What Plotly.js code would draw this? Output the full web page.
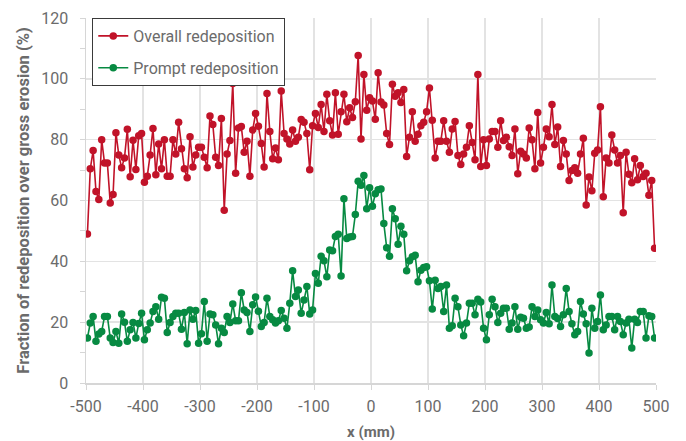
<!DOCTYPE html>
<html>
<head>
<meta charset="utf-8">
<script src="https://cdn.plot.ly/plotly-3.0.1.min.js"></script>
<style>
  html, body { margin: 0; padding: 0; background: #ffffff; }
  #chart { width: 686px; height: 441px; }
</style>
</head>
<body>
<div id="chart"></div>
<script>
// Scan positions along the surface (mm), bin centres every 5 mm
const positionsMm = [
  -497.5, -492.5, -487.5, -482.5, -477.5, -472.5, -467.5, -462.5, -457.5, -452.5,
  -447.5, -442.5, -437.5, -432.5, -427.5, -422.5, -417.5, -412.5, -407.5, -402.5,
  -397.5, -392.5, -387.5, -382.5, -377.5, -372.5, -367.5, -362.5, -357.5, -352.5,
  -347.5, -342.5, -337.5, -332.5, -327.5, -322.5, -317.5, -312.5, -307.5, -302.5,
  -297.5, -292.5, -287.5, -282.5, -277.5, -272.5, -267.5, -262.5, -257.5, -252.5,
  -247.5, -242.5, -237.5, -232.5, -227.5, -222.5, -217.5, -212.5, -207.5, -202.5,
  -197.5, -192.5, -187.5, -182.5, -177.5, -172.5, -167.5, -162.5, -157.5, -152.5,
  -147.5, -142.5, -137.5, -132.5, -127.5, -122.5, -117.5, -112.5, -107.5, -102.5,
  -97.5, -92.5, -87.5, -82.5, -77.5, -72.5, -67.5, -62.5, -57.5, -52.5,
  -47.5, -42.5, -37.5, -32.5, -27.5, -22.5, -17.5, -12.5, -7.5, -2.5,
  2.5, 7.5, 12.5, 17.5, 22.5, 27.5, 32.5, 37.5, 42.5, 47.5,
  52.5, 57.5, 62.5, 67.5, 72.5, 77.5, 82.5, 87.5, 92.5, 97.5,
  102.5, 107.5, 112.5, 117.5, 122.5, 127.5, 132.5, 137.5, 142.5, 147.5,
  152.5, 157.5, 162.5, 167.5, 172.5, 177.5, 182.5, 187.5, 192.5, 197.5,
  202.5, 207.5, 212.5, 217.5, 222.5, 227.5, 232.5, 237.5, 242.5, 247.5,
  252.5, 257.5, 262.5, 267.5, 272.5, 277.5, 282.5, 287.5, 292.5, 297.5,
  302.5, 307.5, 312.5, 317.5, 322.5, 327.5, 332.5, 337.5, 342.5, 347.5,
  352.5, 357.5, 362.5, 367.5, 372.5, 377.5, 382.5, 387.5, 392.5, 397.5,
  402.5, 407.5, 412.5, 417.5, 422.5, 427.5, 432.5, 437.5, 442.5, 447.5,
  452.5, 457.5, 462.5, 467.5, 472.5, 477.5, 482.5, 487.5, 492.5, 497.5
];

// Overall redeposition fraction (%)
const overallRedeposition = [
  49, 70.4, 76.4, 63, 60.3, 80, 72.3, 72.3, 59.2, 62, 82.3, 75, 70.8, 74, 83.4, 67.8, 79.8, 70.2, 81.3, 82,
  66, 68, 75, 83.7, 68.5, 78.6, 70.4, 80, 68, 68, 80, 75.3, 85.7, 77, 70.4, 67.5, 81, 71, 75, 77.5,
  77.5, 74.2, 70.8, 87.8, 85, 74.2, 71.5, 87, 56.8, 75.3, 79.7, 98.5, 69, 83.8, 84.3, 75.9, 79.5, 68, 83.2, 88.6,
  84.4, 78.7, 71, 95.2, 82.7, 73.7, 77.3, 73.4, 96, 82, 80.2, 78.6, 83.2, 79.5, 80.8, 86.6, 85.7, 82, 70.1, 84.6,
  88.6, 84, 91.6, 82.7, 94.9, 86.2, 81.5, 95.4, 81.8, 89.2, 94.9, 85.9, 90.5, 87.3, 92.5, 107.7, 80.2, 101.4, 89.7, 93.8,
  92.7, 86.7, 102, 92.4, 91.4, 82, 78.4, 98.2, 94.3, 95.4, 92.2, 96.5, 74.5, 80.8, 89.2, 79.5, 81.8, 84.6, 85.7, 89.2,
  97, 86.4, 74, 79.5, 79.5, 86.2, 79.5, 75.9, 83.5, 86, 74.8, 71.8, 75.3, 77.5, 84.6, 79.1, 73.4, 101.4, 71.2, 80,
  71.5, 80.2, 82.7, 82.7, 77.5, 86.2, 79.7, 80.8, 77.7, 74.8, 83.5, 68.8, 76.2, 75.3, 74, 83.8, 80, 70.4, 88.9, 72.3,
  77.5, 83.5, 81, 91.6, 78.4, 84.2, 71.2, 79.7, 75.3, 66.6, 69.9, 70.8, 69, 75.3, 80.5, 58.5, 67.7, 63.2, 75.5, 76.6,
  90.8, 61.2, 74, 72.3, 81.5, 76.6, 72.3, 74.8, 56, 75.9, 68.6, 65.8, 73.7, 66.8, 71.5, 67.9, 69, 61.7, 66.6, 44.3
];

// Prompt redeposition fraction (%)
const promptRedeposition = [
  14.8, 19.7, 21.9, 13.7, 16.1, 16.9, 21.9, 21.9, 14.8, 13.3, 16.9, 13.1, 22.7, 20, 13.7, 17.5, 19.9, 14.8, 19.6, 22.9,
  14.2, 17.5, 19.7, 23.5, 25.1, 21, 28.2, 27.9, 16.6, 19.9, 21.9, 22.9, 22.9, 17.7, 23.2, 12.9, 24, 21, 23.8, 13.1,
  16.2, 26.8, 13.7, 22.7, 22.4, 19.1, 12.9, 18, 16.6, 21.9, 19.9, 26, 20.5, 20.5, 29.7, 24, 23.2, 16.9, 25.7, 28.3,
  23.6, 18.6, 19.9, 27.9, 21.9, 20.8, 19.7, 20.5, 23.8, 21.3, 18, 26.2, 36.9, 28.4, 30.6, 22.9, 27.3, 31.7, 22.7, 24,
  36, 32.8, 41.7, 40.2, 34.9, 43.7, 43.5, 48.2, 48.9, 35.2, 60.6, 47.5, 48, 48.2, 55.4, 66.3, 65, 68.2, 57.3, 64.2,
  58.1, 62.2, 63.5, 63.8, 52.4, 44.5, 41.7, 57.3, 54, 45.6, 51.5, 48.9, 36.9, 40.2, 41.5, 42, 33.3, 37.1, 38, 38.2,
  33.6, 24.3, 33.8, 31.1, 31.7, 23.5, 32.2, 18, 18.8, 27.9, 25.1, 19.1, 15.5, 19.7, 26.2, 26.2, 22.4, 27.5, 26.6, 18,
  14.2, 22.4, 27.5, 25.1, 19.9, 22.9, 24.6, 24.6, 17.7, 19.7, 25.1, 17.7, 21.6, 21.3, 18, 18.4, 25.1, 21.9, 24, 20.8,
  19.7, 23.2, 19.5, 32.2, 21.9, 21.2, 18.6, 22.4, 31.1, 23.5, 19.5, 15.9, 16.9, 26.8, 22.7, 19.5, 9.9, 24.6, 18, 20.2,
  28.9, 17.5, 19.1, 21.9, 21.9, 17.5, 21.9, 20.2, 15.9, 19.7, 21, 11.5, 21, 19.9, 23.5, 23.5, 14.8, 22.1, 21.9, 14.8
];

const xTickValues = [-500, -400, -300, -200, -100, 0, 100, 200, 300, 400, 500];
const yTickValues = [0, 20, 40, 60, 80, 100, 120];

const textGray = '#6b6b6b';
const gridGray = '#e3e3e3';
const baseFont = 'Roboto, "Liberation Sans", sans-serif';

const traces = [
  {
    name: 'Overall redeposition',
    legendgroup: 'overall',
    x: positionsMm,
    y: overallRedeposition,
    type: 'scatter',
    mode: 'lines+markers',
    line: { color: '#c11329', width: 1.6 },
    marker: { color: '#c11329', size: 7.5, symbol: 'circle' }
  },
  {
    name: 'Prompt redeposition',
    legendgroup: 'prompt',
    x: positionsMm,
    y: promptRedeposition,
    type: 'scatter',
    mode: 'lines+markers',
    line: { color: '#078a42', width: 1.6 },
    marker: { color: '#078a42', size: 7.5, symbol: 'circle' }
  }
];

const layout = {
  width: 686,
  height: 441,
  margin: { l: 86, r: 30, t: 18, b: 58 },
  paper_bgcolor: '#ffffff',
  plot_bgcolor: '#ffffff',
  font: { family: baseFont, color: textGray, size: 15 },
  showlegend: true,
  legend: {
    x: 0.011, y: 1.0, xanchor: 'left', yanchor: 'top',
    bgcolor: '#ffffff',
    bordercolor: '#3a3a3a',
    borderwidth: 1,
    font: { family: baseFont, size: 16, color: textGray },
    traceorder: 'grouped',
    tracegroupgap: 8,
    itemwidth: 30
  },
  xaxis: {
    range: [-500, 500],
    tickmode: 'array',
    tickvals: xTickValues,
    ticktext: xTickValues.map(String),
    showgrid: true,
    gridcolor: gridGray,
    gridwidth: 1.5,
    zeroline: false,
    showline: true,
    linecolor: '#d6d6d6',
    linewidth: 1.5,
    ticks: 'outside',
    ticklen: 5,
    tickcolor: '#d6d6d6',
    ticklabelstandoff: 3,
    tickfont: { family: baseFont, size: 16, color: textGray },
    title: {
      text: '<b>x (mm)</b>',
      font: { family: baseFont, size: 15, color: textGray },
      standoff: 12
    }
  },
  yaxis: {
    range: [0, 120],
    tickmode: 'array',
    tickvals: yTickValues,
    ticktext: yTickValues.map(String),
    showgrid: true,
    gridcolor: gridGray,
    gridwidth: 1.5,
    zeroline: false,
    showline: true,
    linecolor: '#d6d6d6',
    linewidth: 1.5,
    ticks: 'outside',
    ticklen: 5,
    tickcolor: '#d6d6d6',
    ticklabelstandoff: 8,
    minor: { dtick: 10, ticks: 'outside', ticklen: 5, tickcolor: '#d6d6d6', showgrid: false },
    tickfont: { family: baseFont, size: 16, color: textGray },
    title: {
      text: '<b>Fraction of redeposition over gross erosion (%)</b>',
      font: { family: baseFont, size: 16.5, color: textGray },
      standoff: 7
    }
  }
};

Plotly.newPlot('chart', traces, layout, { displayModeBar: false, staticPlot: true });
</script>
</body>
</html>
